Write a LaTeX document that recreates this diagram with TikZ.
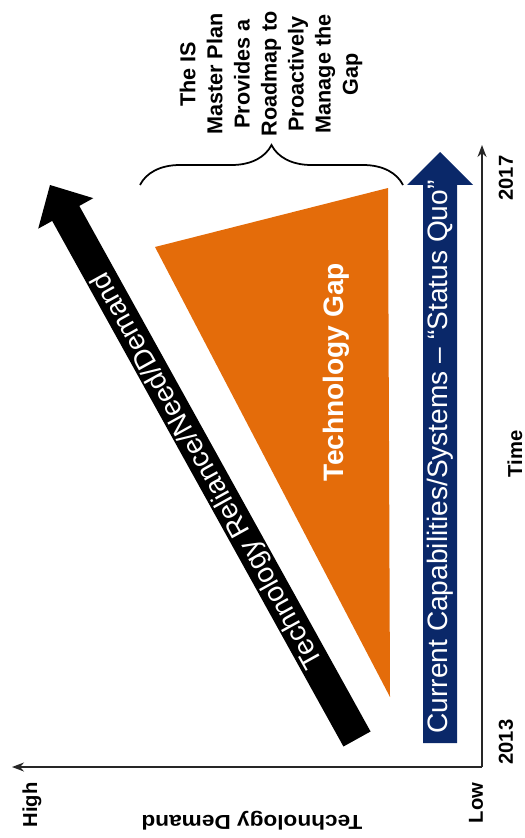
\documentclass[tikz,border=0pt]{standalone}
\usepackage{fontspec}
\setmainfont{Liberation Sans}
\usetikzlibrary{arrows.meta,calc,decorations.pathreplacing}
\definecolor{gaporange}{RGB}{228,108,10}
\definecolor{quonavy}{RGB}{10,40,105}

\begin{document}
\begin{tikzpicture}[x=0.02cm,y=-0.02cm,>={Stealth[length=2.4mm,width=1.8mm]},
  axis/.style={line width=0.9pt,black!85},
  lbl/.style={font=\fontsize{11.5pt}{13pt}\selectfont\bfseries,inner sep=0pt},
  bigtxt/.style={text=white,font=\fontsize{16pt}{19pt}\selectfont,inner sep=0pt}]
\useasboundingbox (0,0) rectangle (524,838);
% axes
\coordinate (origin) at (482,767);
\coordinate (tend) at (482,145);
\coordinate (dend) at (12,767);
\draw[axis,->] (origin) -- (tend);
\draw[axis,->] (origin) -- (dend);
\node[lbl,rotate=90] (high) at (32,805) {High};
\node[lbl,rotate=90] (low) at (476,803) {Low};
\node[lbl,rotate=180] (ylab) at (252,821) {\scalebox{1.12}[1]{Technology Demand}};
\node[lbl,rotate=90] (y13) at (506,742) {2013};
\node[lbl,rotate=90] (y17) at (506,178) {2017};
\node[lbl,rotate=90] (time) at (515,454) {Time};
% the gap
\fill[gaporange] (155,247) coordinate (gtl) -- (388,188) coordinate (gtr)
  -- (390,697) coordinate (gbot) -- cycle;
\node[bigtxt,font=\fontsize{16pt}{19pt}\selectfont\bfseries,rotate=90] (gap) at (336,372) {Technology Gap};
% demand arrow
\coordinate (dtail) at (357,739);
\coordinate (dtip) at (50,185);
\coordinate (dbase) at ($(dtip)!0.65cm!(dtail)$);
\fill[black] ($(dtail)!0.31cm!90:(dtip)$) -- ($(dbase)!0.31cm!-90:(dtail)$)
  -- ($(dbase)!0.63cm!-90:(dtail)$) -- (dtip) -- ($(dbase)!0.63cm!90:(dtail)$)
  -- ($(dbase)!0.31cm!90:(dtail)$) -- ($(dtail)!0.31cm!-90:(dtip)$) -- cycle;
\node[bigtxt,rotate=119] (demand) at ($(dtail)!0.485!(dtip)$) {Technology Reliance/Need/Demand};
% status quo arrow
\coordinate (qtail) at (440,743);
\coordinate (qtip) at (440,152);
\coordinate (qbase) at ($(qtip)!0.66cm!(qtail)$);
\fill[quonavy] ($(qtail)!0.34cm!90:(qtip)$) -- ($(qbase)!0.34cm!-90:(qtail)$)
  -- ($(qbase)!0.66cm!-90:(qtail)$) -- (qtip) -- ($(qbase)!0.66cm!90:(qtail)$)
  -- ($(qbase)!0.34cm!90:(qtail)$) -- ($(qtail)!0.34cm!-90:(qtip)$) -- cycle;
\node[bigtxt,rotate=90] (quo) at ($(qtail)!0.484!(qtip)$) {Current Capabilities/Systems -- ``Status Quo''};
% brace and note
\coordinate (bl) at (140,185);
\coordinate (br) at (403,185);
\draw[line width=1pt,decorate,decoration={brace,amplitude=0.8cm}] (bl) -- (br);
\node[lbl,font=\fontsize{12.3pt}{15.4pt}\selectfont\bfseries,rotate=90,align=center] (note) at (271,74)
  {The IS\\Master Plan\\Provides a\\Roadmap to\\Proactively\\Manage the\\Gap};
\end{tikzpicture}
\end{document}
